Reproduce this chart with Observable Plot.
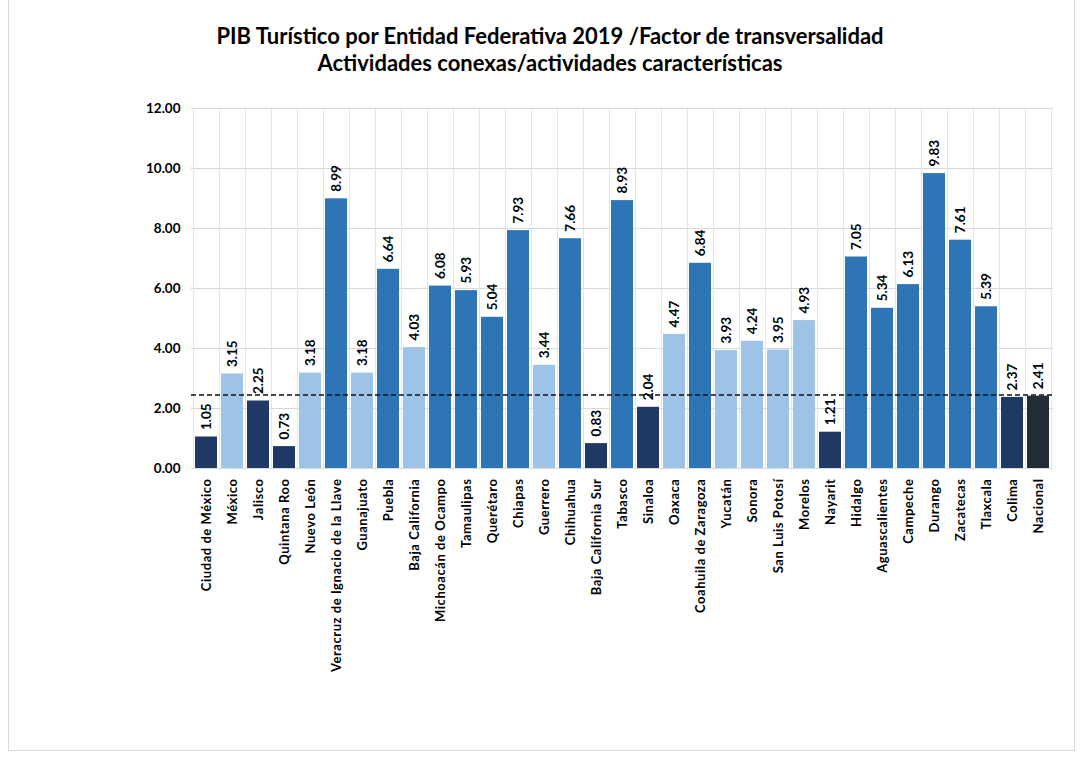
<!DOCTYPE html>
<html>
<head>
<meta charset="utf-8">
<script src="https://cdn.jsdelivr.net/npm/d3@7"></script>
<script src="https://cdn.jsdelivr.net/npm/@observablehq/plot@0.6"></script>
<style>
  body { margin: 0; background: #fff; font-family: Lato, "Open Sans", sans-serif; }
  #page { position: relative; width: 1083px; height: 757px; overflow: hidden; }
  #frame { position: absolute; left: 8px; top: -2px; width: 1067px; height: 753px; border: 1px solid #d9d9d9; box-sizing: border-box; }
  #title { position: absolute; left: 0; top: 22px; width: 1100px; text-align: center; font-weight: 700; font-size: 22px; line-height: 27px; color: #000; }
  #chart { position: absolute; left: 0; top: 90px; }
  g[aria-label="x-axis tick label"] text { letter-spacing: 0.55px; }
</style>
</head>
<body>
<div id="page">
  <div id="frame"></div>
  <div id="title">PIB Turístico por Entidad Federativa 2019 /Factor de transversalidad<br>Actividades conexas/actividades características</div>
  <div id="chart"></div>
</div>
<script>
const states = [
  "Ciudad de México", "México", "Jalisco", "Quintana Roo", "Nuevo León",
  "Veracruz de Ignacio de la Llave", "Guanajuato", "Puebla", "Baja California",
  "Michoacán de Ocampo", "Tamaulipas", "Querétaro", "Chiapas", "Guerrero",
  "Chihuahua", "Baja California Sur", "Tabasco", "Sinaloa", "Oaxaca",
  "Coahuila de Zaragoza", "Yucatán", "Sonora", "San Luis Potosí", "Morelos",
  "Nayarit", "Hidalgo", "Aguascalientes", "Campeche", "Durango", "Zacatecas",
  "Tlaxcala", "Colima", "Nacional"
];
const values = [
  1.05, 3.15, 2.25, 0.73, 3.18,
  8.99, 3.18, 6.64, 4.03,
  6.08, 5.93, 5.04, 7.93, 3.44,
  7.66, 0.83, 8.93, 2.04, 4.47,
  6.84, 3.93, 4.24, 3.95, 4.93,
  1.21, 7.05, 5.34, 6.13, 9.83, 7.61,
  5.39, 2.37, 2.41
];
const groups = [
  "bajo", "medio", "bajo", "bajo", "medio",
  "alto", "medio", "alto", "medio",
  "alto", "alto", "alto", "alto", "medio",
  "alto", "bajo", "alto", "bajo", "medio",
  "alto", "medio", "medio", "medio", "medio",
  "bajo", "alto", "alto", "alto", "alto", "alto",
  "alto", "bajo", "nacional"
];
const referenceLine = 2.45;
const yTicks = [0, 2, 4, 6, 8, 10, 12];

const groupColors = {bajo: "#203864", medio: "#9dc3e6", alto: "#2e75b6", nacional: "#232b36"};
const data = states.map((s, i) => ({state: s, value: values[i], group: groups[i]}));

const W = 1083, H = 640, mL = 191, mR = 30, mT = 18, mB = 262;
const step = (W - mL - mR) / states.length;

const chart = Plot.plot({
  width: W, height: H,
  marginLeft: mL, marginRight: mR, marginTop: mT, marginBottom: mB,
  style: {fontFamily: "Lato, 'Open Sans', sans-serif", color: "#000", background: "transparent"},
  x: {domain: states, paddingInner: 0.15, paddingOuter: 0.075, label: null},
  y: {domain: [0, 12], label: null},
  marks: [
    Plot.ruleY(yTicks, {stroke: "#d9d9d9", strokeWidth: 1}),
    Plot.ruleX(states, {x: d => d, dx: -step / 2, y1: 0, y2: 12, stroke: "#e4e4e4"}),
    Plot.ruleX([states[states.length - 1]], {x: d => d, dx: step / 2, y1: 0, y2: 12, stroke: "#e4e4e4"}),
    Plot.barY(data, {x: "state", y: "value", fill: d => groupColors[d.group]}),
    Plot.ruleY([referenceLine], {stroke: "#111", strokeWidth: 1.3, strokeDasharray: "5,3"}),
    Plot.text(data, {x: "state", y: "value", text: d => d3.format(".2f")(d.value), rotate: -90,
      textAnchor: "start", dy: -7, fontSize: 13.5, fontWeight: 700, fill: "#000"}),
    Plot.axisY({ticks: yTicks, tickFormat: d3.format(".2f"), tickSize: 0, tickPadding: 11,
      fontSize: 13.5, fontWeight: 700, label: null}),
    Plot.axisX({tickRotate: -90, tickSize: 0, tickPadding: 10, fontSize: 13, fontWeight: 700, label: null})
  ]
});
document.getElementById("chart").appendChild(chart);
</script>
</body>
</html>
